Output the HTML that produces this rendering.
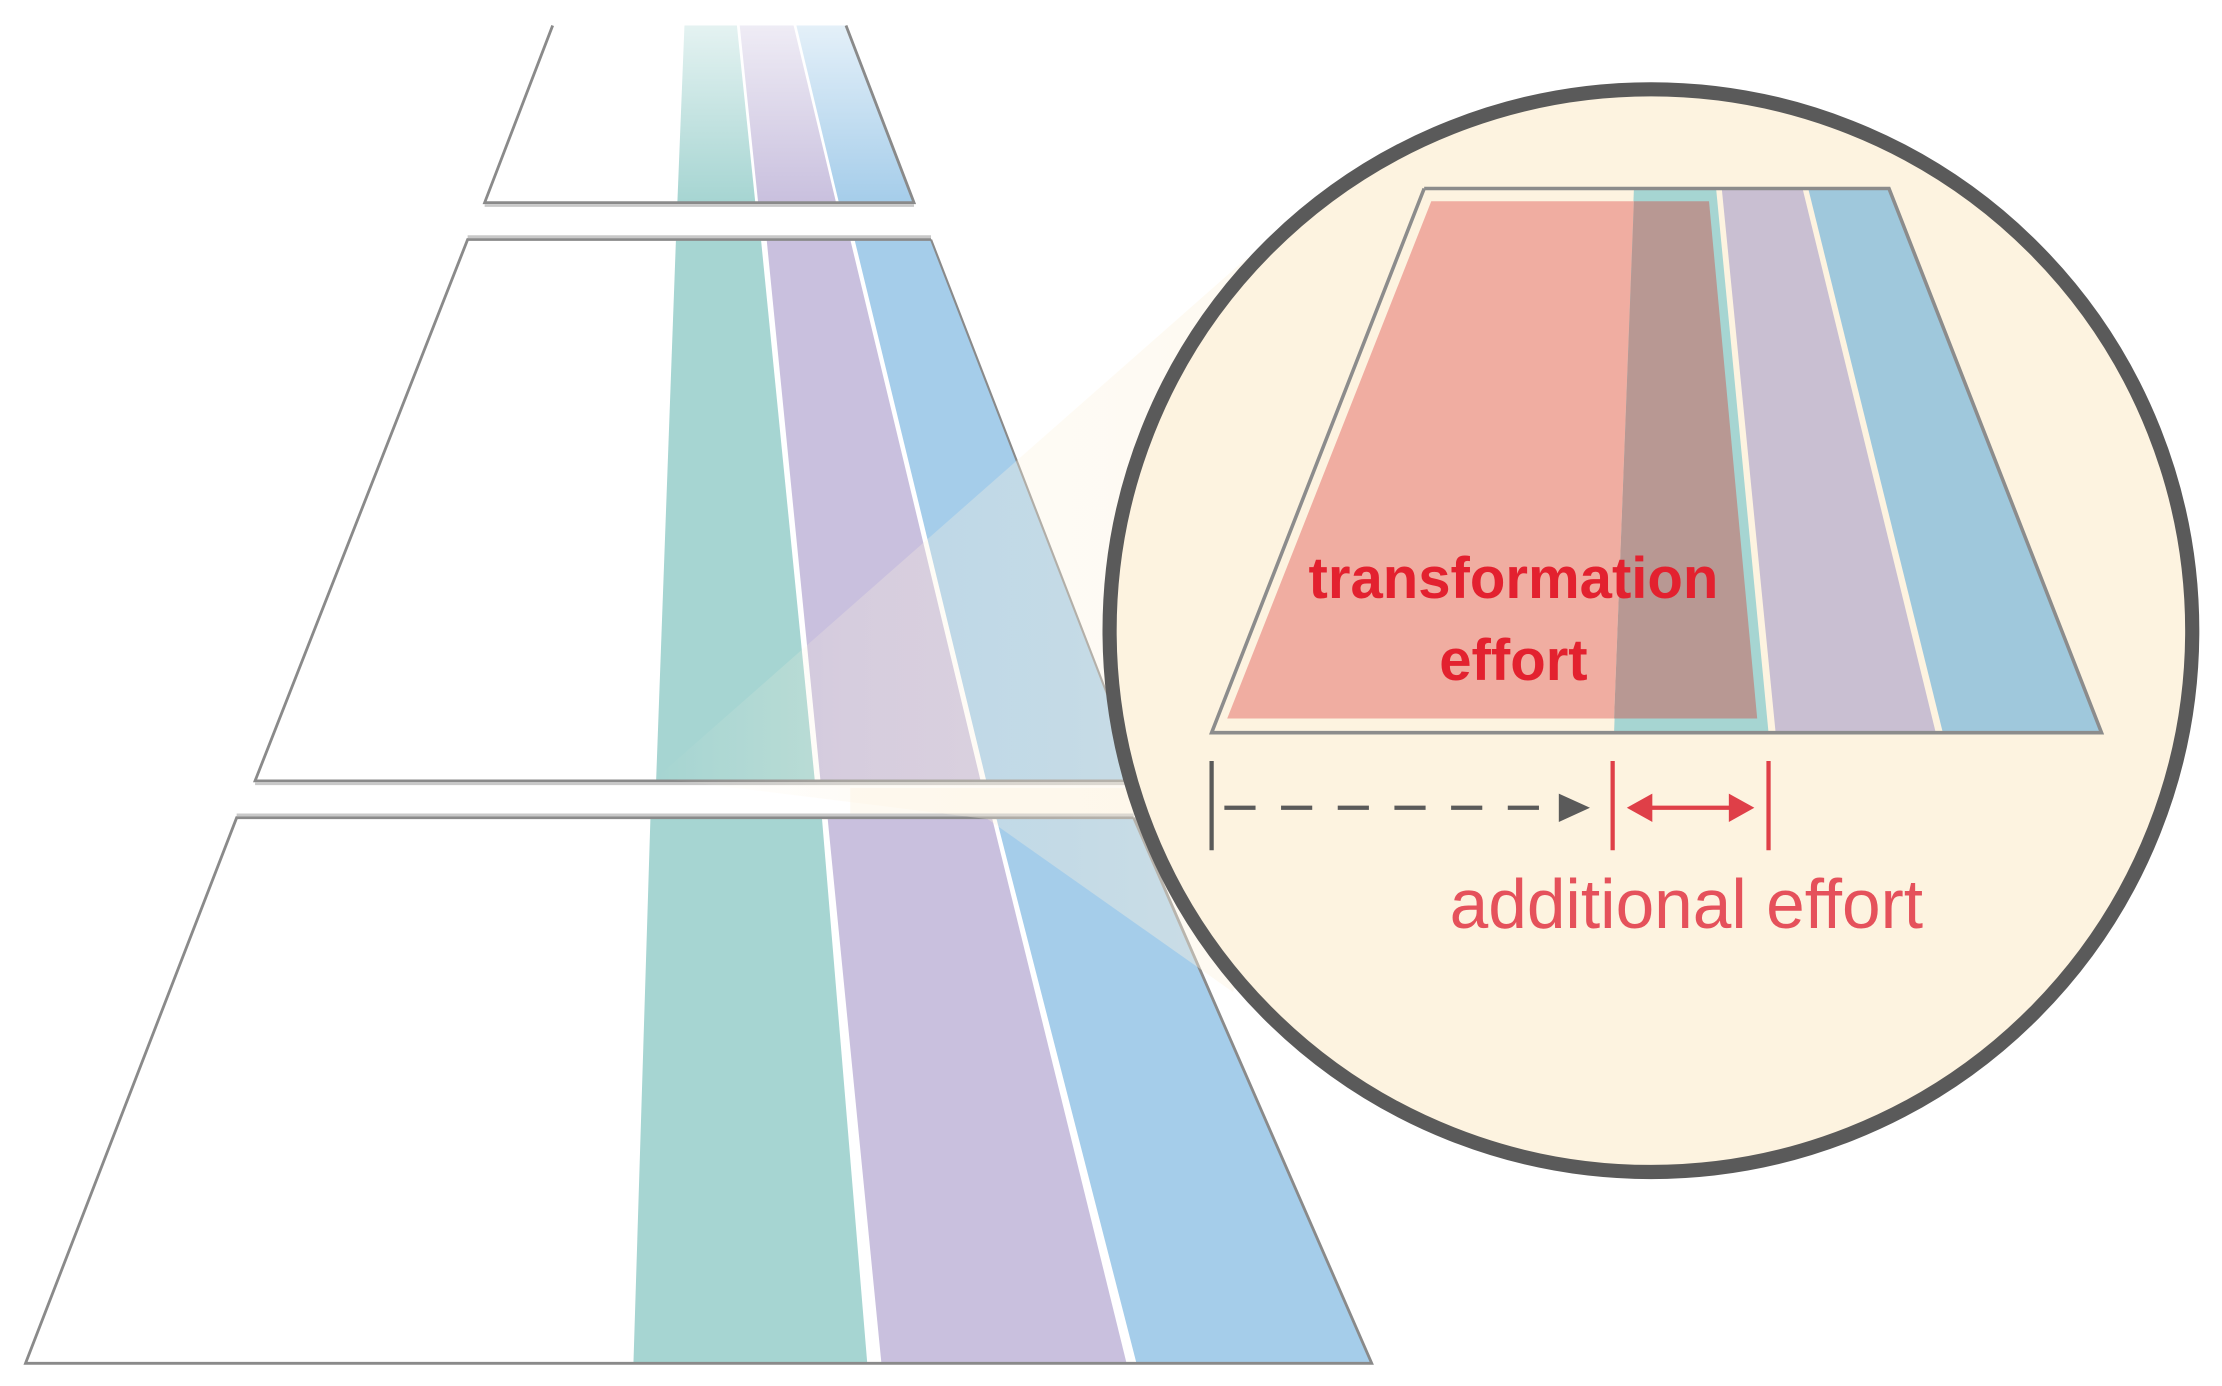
<!DOCTYPE html>
<html><head><meta charset="utf-8"><style>
html,body{margin:0;padding:0;background:#fff;}
svg{display:block;}
</style></head><body>
<svg width="2222" height="1386" viewBox="0 0 1568 978" preserveAspectRatio="none" xmlns="http://www.w3.org/2000/svg">
<defs>
<linearGradient id="fadeTop" x1="0" y1="0" x2="0" y2="1">
<stop offset="0" stop-color="#fff" stop-opacity="0.7"/>
<stop offset="1" stop-color="#fff" stop-opacity="0"/>
</linearGradient>
<linearGradient id="cone" x1="463" y1="0" x2="900" y2="0" gradientUnits="userSpaceOnUse">
<stop offset="0" stop-color="#fdf3e0" stop-opacity="0"/>
<stop offset="0.3" stop-color="#fdf3e0" stop-opacity="0.25"/>
<stop offset="1" stop-color="#fdf3e0" stop-opacity="0.45"/>
</linearGradient>
</defs>

<!-- top level -->
<polygon points="483,18 520,18 533,143 478,143" fill="#a6d5d2"/>
<polygon points="522,18 560,18 590,143 535,143" fill="#c9c0de"/>
<polygon points="562,18 597,18 645,143 592,143" fill="#a5cdea"/>
<rect x="470" y="18" width="190" height="125" fill="url(#fadeTop)"/>
<polyline points="390,18 342,143 645,143 597,18" fill="none" stroke="#8a8a8a" stroke-width="2"/>
<line x1="342" y1="145" x2="645" y2="145" stroke="#c8c8c8" stroke-width="2"/>

<!-- middle level -->
<polygon points="477,169 537,169 575,551 463,551" fill="#a6d5d2"/>
<polygon points="541,169 600,169 692,551 579,551" fill="#c9c0de"/>
<polygon points="603,169 657,169 805,551 696,551" fill="#a5cdea"/>
<polyline points="657,169 330,169 180,551 820,551" fill="none" stroke="#8a8a8a" stroke-width="2"/>
<line x1="657" y1="169" x2="805" y2="551" stroke="#8a8a8a" stroke-width="1.5"/>
<line x1="330" y1="167" x2="657" y2="167" stroke="#c8c8c8" stroke-width="2"/>
<line x1="180" y1="553" x2="820" y2="553" stroke="#c8c8c8" stroke-width="2"/>

<!-- bottom level -->
<polygon points="459,577 580,577 612,962 447,962" fill="#a6d5d2"/>
<polygon points="584,577 700,577 795,962 622,962" fill="#c9c0de"/>
<polygon points="703,577 800,577 968,962 802,962" fill="#a5cdea"/>
<polyline points="800,577 167,577 18,962 968,962 800,577" fill="none" stroke="#8a8a8a" stroke-width="2"/>
<line x1="167" y1="575" x2="800" y2="575" stroke="#c8c8c8" stroke-width="2"/>
<rect x="600" y="556" width="220" height="18" fill="#fdf6ea" opacity="0.6"/>

<!-- magnifier cone -->
<polygon points="463,549 880,182 1050,300 870,700 697,578" fill="url(#cone)"/>

<!-- circle -->
<circle cx="1165" cy="445" r="382" fill="#fdf3e0" stroke="#5a5a5a" stroke-width="10"/>

<!-- inner trapezoid bands -->
<polygon points="1153,133 1211,133 1248,517 1139,517" fill="#a6d5d2"/>
<polygon points="1215,133 1272,133 1366,517 1253,517" fill="#c9bfd2"/>
<polygon points="1276,133 1333,133 1483,517 1371,517" fill="#9fc8dc"/>
<!-- red overlay -->
<polygon points="1010,142 1153,142 1139,507 866,507" fill="#f0ada1"/>
<polygon points="1153,142 1206,142 1240,507 1139,507" fill="#b89893"/>
<polyline points="1005,133 855,517 1483,517 1333,133 1005,133" fill="none" stroke="#8c8c8c" stroke-width="2.5"/>

<text x="1068" y="422" text-anchor="middle" font-family="Liberation Sans, sans-serif" font-weight="bold" font-size="41" fill="#e3212f">transformation</text>
<text x="1068" y="480" text-anchor="middle" font-family="Liberation Sans, sans-serif" font-weight="bold" font-size="41" fill="#e3212f">effort</text>

<!-- arrows -->
<line x1="855" y1="537" x2="855" y2="600" stroke="#5a5a5a" stroke-width="3"/>
<line x1="864" y1="570" x2="1100" y2="570" stroke="#5a5a5a" stroke-width="3" stroke-dasharray="22,18"/>
<polygon points="1100,560 1122,570 1100,580" fill="#5a5a5a"/>
<line x1="1138" y1="537" x2="1138" y2="600" stroke="#df3f48" stroke-width="3"/>
<line x1="1248" y1="537" x2="1248" y2="600" stroke="#df3f48" stroke-width="3"/>
<line x1="1160" y1="570" x2="1226" y2="570" stroke="#df3f48" stroke-width="3"/>
<polygon points="1148,570 1166,560 1166,580" fill="#df3f48"/>
<polygon points="1238,570 1220,560 1220,580" fill="#df3f48"/>

<text x="1190" y="655" text-anchor="middle" font-family="Liberation Sans, sans-serif" font-size="49" fill="#e5515b">additional effort</text>
</svg>
</body></html>
